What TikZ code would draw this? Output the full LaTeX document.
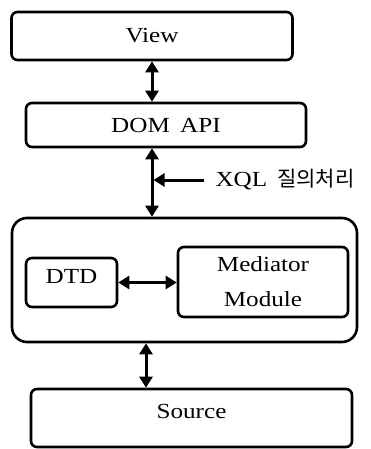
\documentclass[tikz,border=0pt]{standalone}
\usepackage{fontspec}
\setmainfont{Liberation Serif}[FakeStretch=1.17]
\newfontfamily\kr{Noto Sans CJK KR}
\usetikzlibrary{arrows.meta,positioning}

\begin{document}
\begin{tikzpicture}[x=1pt, y=-1pt,
    box/.style = {draw, line width=2.6pt, rounded corners=6pt, inner sep=0pt},
    dbl/.style = {line width=3pt, {Triangle[width=13pt,length=11pt]}-{Triangle[width=13pt,length=11pt]}},
    arr/.style = {line width=3pt, -{Triangle[width=13pt,length=11pt]}},
    font = \fontsize{21.5}{35}\selectfont]
    \useasboundingbox (0,0) rectangle (370,449);

    \node[box, minimum width=281pt, minimum height=48pt] (view) at (152,36) {View};
    \node[box, minimum width=280pt, minimum height=44pt] (dom) at (166,125) {DOM\hspace{4pt} API};
    \node[box, rounded corners=15pt, minimum width=345pt, minimum height=124pt] (big) at (184.5,280) {};
    \node[box, minimum width=91pt, minimum height=49pt] (dtd) at (71.5,282.5) {};
    \node (dtdtext) at (71.5,276) {DTD};
    \node[box, align=center, minimum width=170pt, minimum height=70pt] (med) at (263,282) {Mediator\\Module};
    \node[box, minimum width=321pt, minimum height=58pt] (src) at (191.5,418) {};
    \node (srctext) at (191.5,411) {Source};
    \node[anchor=west] (xql) at (212,180) {XQL\hspace{10pt}{\kr\fontsize{21}{24}\selectfont 질의처리}};

    \draw[dbl] (view.south) -- (view.south |- dom.north);
    \draw[dbl] (view.south |- dom.south) -- (view.south |- big.north);
    \draw[arr, shorten >=1.5pt] ([xshift=-8pt]xql.west) -- (xql.west -| view.south);
    \draw[dbl] (dtd.east) -- (dtd.east -| med.west);
    \draw[dbl] ([xshift=-6pt]view.south |- big.south) -- ([xshift=-6pt]view.south |- src.north);
  \end{tikzpicture}
\end{document}
